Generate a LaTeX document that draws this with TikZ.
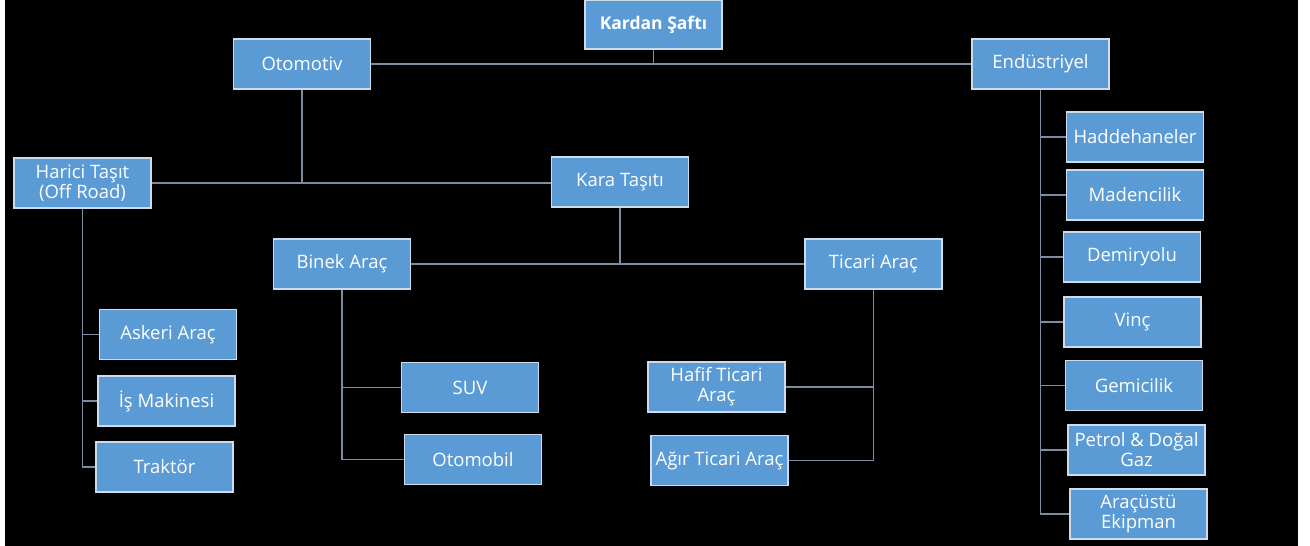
\documentclass[tikz,border=0pt]{standalone}
\usepackage{fontspec}
\setmainfont{Open Sans}
\usepackage{xcolor}
\usepackage{tikz}
\usetikzlibrary{positioning, calc}
\definecolor{boxblue}{RGB}{91,155,213}
\definecolor{boxedge}{RGB}{205,220,235}
\definecolor{linkgray}{RGB}{125,140,162}
\tikzset{
  orgbox/.style={
    rectangle, draw=boxedge, line width=1.3pt, fill=boxblue, text=white,
    minimum width=137pt, minimum height=50pt, inner xsep=0pt, inner ysep=2pt,
    align=center, font=\fontsize{18.5}{20}\selectfont
  },
  rootbox/.style={
    orgbox, minimum height=49pt, font=\bfseries\fontsize{17.5}{20}\selectfont
  },
  orglink/.style={
    draw=linkgray, line width=1.5pt
  }
}
\begin{document}
\begin{tikzpicture}[x=1pt, y=-1pt]
  \useasboundingbox (0,0) rectangle (1310,546);
  \fill[black] (5,0) rectangle (1298,546);

  % top level
  \node[rootbox] (kardan) at (653.5,24.5) {Kardan Şaftı};
  \node[orgbox] (otomotiv) at (302,64) {Otomotiv};
  \node[orgbox] (endustri) at (1040.5,64) {Endüstriyel};

  % otomotiv branch
  \node[orgbox] (harici) at (82.5,183) {Harici Taşıt\\(Off Road)};
  \node[orgbox] (kara) at (620,182) {Kara Taşıtı};
  \node[orgbox] (binek) at (342,264) {Binek Araç};
  \node[orgbox] (ticari) at (873.5,264) {Ticari Araç};
  \node[orgbox] (suv) at (470,387.5) {SUV};
  \node[orgbox] (otomobil) at (473,459.5) {Otomobil};
  \node[orgbox] (hafif) at (716.5,387) {Hafif Ticari\\Araç};
  \node[orgbox] (agir) at (719.5,460.5) {Ağır Ticari Araç};
  \node[orgbox] (askeri) at (168,334.5) {Askeri Araç};
  \node[orgbox] (isMak) at (166.5,401) {İş Makinesi};
  \node[orgbox] (traktor) at (164.5,467) {Traktör};

  % endustriyel branch
  \node[orgbox] (hadde) at (1135,137) {Haddehaneler};
  \node[orgbox] (maden) at (1135,195) {Madencilik};
  \node[orgbox] (demir) at (1132,257) {Demiryolu};
  \node[orgbox] (vinc) at (1132.5,322) {Vinç};
  \node[orgbox] (gemi) at (1134,385.5) {Gemicilik};
  \node[orgbox] (petrol) at (1136.5,450) {Petrol \& Doğal\\Gaz};
  \node[orgbox] (aracustu) at (1138.5,514) {Araçüstü\\Ekipman};

  \draw[orglink] (otomotiv.east) -- (endustri.west);
  \draw[orglink] (kardan.south) -- (kardan.south |- otomotiv.east);
  \draw[orglink] (otomotiv.south) -- (otomotiv.south |- harici.east);
  \draw[orglink] (harici.east) -- (harici.east -| kara.west);
  \draw[orglink] (kara.south) -- (kara.south |- binek.east);
  \draw[orglink] (binek.east) -- (ticari.west);

  \draw[orglink] (binek.south) -- (binek.south |- otomobil.west) -- (otomobil.west);
  \draw[orglink] (binek.south |- suv.west) -- (suv.west);
  \draw[orglink] (ticari.south) -- (ticari.south |- agir.east) -- (agir.east);
  \draw[orglink] (ticari.south |- hafif.east) -- (hafif.east);

  \draw[orglink] (harici.south) -- (harici.south |- traktor.west) -- (traktor.west);
  \draw[orglink] (harici.south |- askeri.west) -- (askeri.west);
  \draw[orglink] (harici.south |- isMak.west) -- (isMak.west);

  \draw[orglink] (endustri.south) -- (endustri.south |- aracustu.west) -- (aracustu.west);
  \foreach \leaf in {hadde, maden, demir, vinc, gemi, petrol}
    \draw[orglink] (endustri.south |- \leaf.west) -- (\leaf.west);
\end{tikzpicture}
\end{document}
